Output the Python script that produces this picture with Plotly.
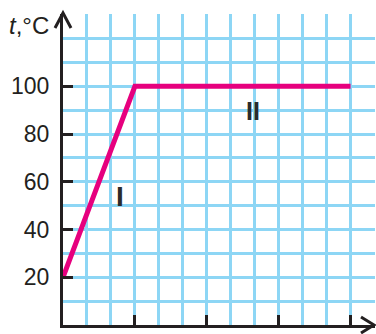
import plotly.graph_objects as go

# Data
x_vals = [0, 3, 12]
t_vals = [20, 100, 100]
y_tick_vals = [20, 40, 60, 80, 100]
y_tick_text = ["20", "40", "60", "80", "100"]
x_tick_vals = [3, 6, 9, 12]
section_labels = ["I", "II"]
section_x = [2.38, 7.94]
section_y = [53.9, 89.5]

GRID = "#8dd6f5"
AX = "#231f20"
PINK = "#e6007e"
LABEL_SIZES = {"I": 28, "II": 25}

fig = go.Figure()
fig.add_trace(go.Scatter(x=x_vals, y=t_vals, mode="lines",
                         line=dict(color=PINK, width=5), hoverinfo="skip",
                         showlegend=False))

for lab, lx, ly in zip(section_labels, section_x, section_y):
    fig.add_annotation(x=lx, y=ly, text="<b>" + lab + "</b>", showarrow=False,
                       font=dict(family="Liberation Sans", size=LABEL_SIZES[lab], color="#2b2b2b"),
                       xref="x", yref="y")

fig.add_annotation(x=0, y=1.0, xref="paper", yref="paper", xanchor="right", yanchor="middle",
                   xshift=-12, yshift=-11, text="<i>t</i>,°C", showarrow=False,
                   font=dict(family="Liberation Sans", size=24, color=AX))

# arrowheads (paper-anchored so they are not clipped)
fig.add_shape(type="path", xref="paper", yref="paper", xsizemode="pixel", ysizemode="pixel",
              xanchor=0, yanchor=1, path="M -8,-14 L 0,1 L 8,-14",
              line=dict(color=AX, width=3))
fig.add_shape(type="path", xref="paper", yref="paper", xsizemode="pixel", ysizemode="pixel",
              xanchor=1, yanchor=0, path="M -14,8 L -1,0 L -14,-8",
              line=dict(color=AX, width=3))

fig.update_xaxes(range=[0, 13.02], showgrid=True, gridcolor=GRID, gridwidth=3,
                 tickvals=x_tick_vals, showticklabels=False, ticks="inside",
                 ticklen=10, tickwidth=3, tickcolor=AX,
                 minor=dict(dtick=1, tick0=0, showgrid=True, gridcolor=GRID, gridwidth=3, ticks=""),
                 showline=True, linecolor=AX, linewidth=3, zeroline=False, fixedrange=True)
fig.update_yaxes(range=[0, 130.3], showgrid=True, gridcolor=GRID, gridwidth=3,
                 tickvals=y_tick_vals, ticktext=y_tick_text, ticks="inside",
                 ticklen=10, tickwidth=3, tickcolor=AX, ticklabelstandoff=6,
                 tickfont=dict(family="Liberation Sans", size=23, color=AX),
                 minor=dict(dtick=10, tick0=0, showgrid=True, gridcolor=GRID, gridwidth=3, ticks=""),
                 showline=True, linecolor=AX, linewidth=3, zeroline=False, fixedrange=True)

fig.update_layout(width=376, height=334, margin=dict(l=63, r=1, t=14, b=9),
                  plot_bgcolor="white", paper_bgcolor="white")
fig.write_html("out.html", config={"displayModeBar": False},
               post_script="document.body.style.margin='0';document.body.style.overflow='hidden';")
